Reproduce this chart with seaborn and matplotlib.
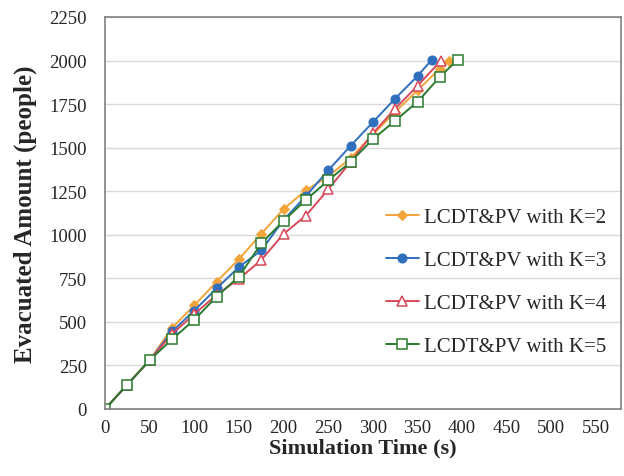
import matplotlib
matplotlib.use("Agg")
import matplotlib.pyplot as plt
import pandas as pd
import seaborn as sns

# values
t_k2 = [0, 25, 50, 75, 100, 125, 150, 175, 200, 225, 250, 275, 300, 325, 350, 375, 385]
v_k2 = [0, 140, 280, 465, 595, 730, 860, 1005, 1148, 1255, 1335, 1440, 1575, 1705, 1829, 1954, 2000]

t_k3 = [0, 25, 50, 75, 100, 125, 150, 175, 200, 225, 250, 275, 300, 325, 350, 366]
v_k3 = [0, 140, 280, 445, 565, 692, 815, 910, 1085, 1222, 1370, 1510, 1646, 1782, 1911, 2005]

t_k4 = [0, 25, 50, 75, 100, 125, 150, 175, 200, 225, 250, 275, 300, 325, 350, 376]
v_k4 = [0, 140, 280, 430, 545, 655, 747, 855, 1005, 1110, 1260, 1418, 1582, 1724, 1855, 1998]

t_k5 = [0, 25, 50, 75, 100, 125, 150, 175, 200, 225, 250, 275, 300, 325, 350, 375, 395]
v_k5 = [0, 140, 280, 400, 512, 645, 760, 950, 1080, 1200, 1312, 1418, 1548, 1655, 1763, 1906, 2005]

labels = ["LCDT&PV with K=2", "LCDT&PV with K=3", "LCDT&PV with K=4", "LCDT&PV with K=5"]
x_ticks = list(range(0, 551, 50))
y_ticks = list(range(0, 2251, 250))

sns.set_style("white")
plt.rcParams['font.family'] = ['Liberation Serif', 'DejaVu Serif']

fig = plt.figure(figsize=(6.24, 4.77), dpi=100)
ax = fig.add_axes([0.1683, 0.1405, 0.827, 0.8218])

styles = [
    dict(color="#f3a43b", marker="D", markersize=5.5, mfc="#f3a43b", mec="#f3a43b"),
    dict(color="#2f6fbe", marker="o", markersize=6.5, mfc="#2f6fbe", mec="#2f6fbe"),
    dict(color="#d8495a", marker="^", markersize=7.5, mfc="white", mec="#d8495a", mew=1.1),
    dict(color="#2b7a2f", marker="s", markersize=6.5, mfc="white", mec="#2b7a2f", mew=1.1),
]

series = [(t_k2, v_k2), (t_k3, v_k3), (t_k4, v_k4), (t_k5, v_k5)]
for (t, v), lab, st in zip(series, labels, styles):
    df = pd.DataFrame({"t": t, "v": v})
    sns.lineplot(data=df, x="t", y="v", ax=ax, label=lab, linewidth=1.4,
                 errorbar=None, **st)

ax.set_xlim(0, 578)
ax.set_ylim(0, 2250)
ax.set_xticks(x_ticks)
ax.set_yticks(y_ticks)
ax.tick_params(axis="both", labelsize=13.5, direction="out", length=4,
               color="#808080", width=1)
ax.tick_params(axis="x", pad=3)
ax.tick_params(axis="y", pad=9)
ax.yaxis.grid(True, color="#d9d9d9", linewidth=1)
ax.set_axisbelow(True)
for s in ax.spines.values():
    s.set_color("#808080")
    s.set_linewidth(1.2)

ax.set_xlabel("Simulation Time (s)", fontsize=16, fontweight="bold", labelpad=1)
ax.set_ylabel("Evacuated Amount (people)", fontsize=18, fontweight="bold", labelpad=9)

ax.legend(loc="center left", bbox_to_anchor=(0.528, 0.324), frameon=False,
          fontsize=15, handlelength=1.6, handletextpad=0.25, labelspacing=1.13,
          borderaxespad=0)

fig.savefig("out.png", dpi=100)
